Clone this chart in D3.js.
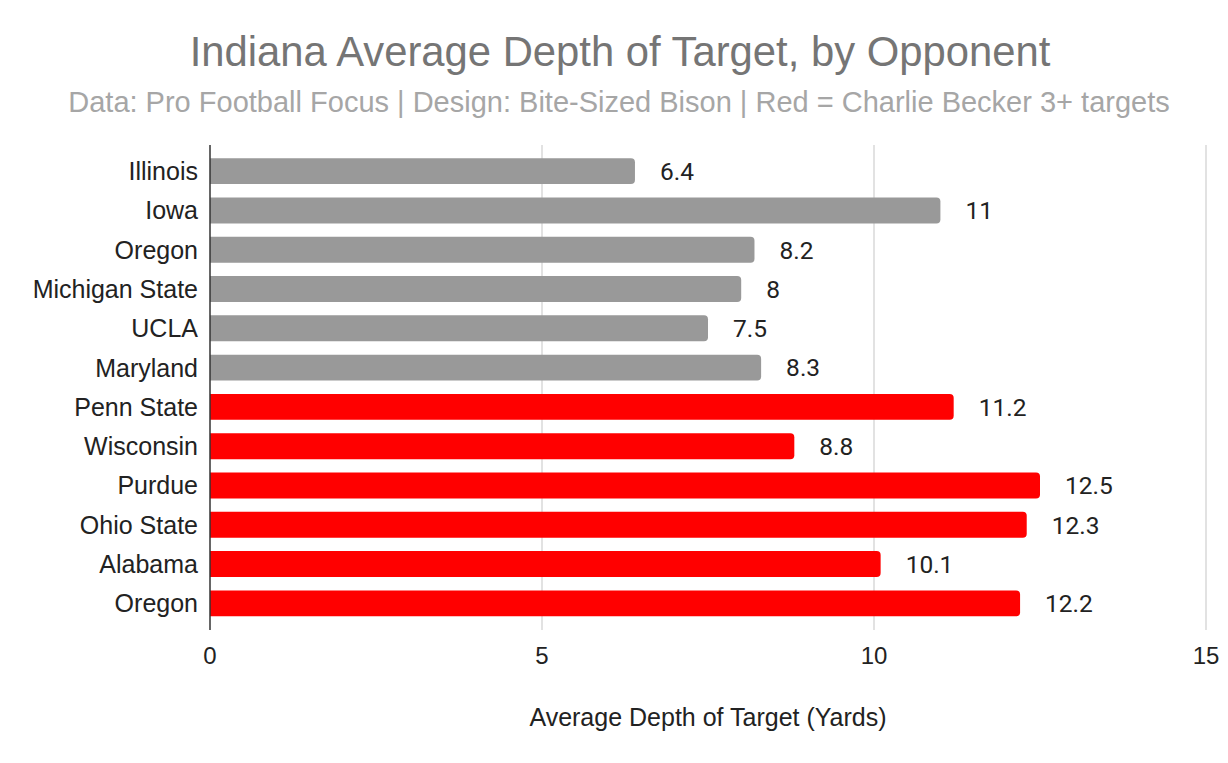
<!DOCTYPE html>
<html>
<head>
<meta charset="utf-8">
<script src="https://cdn.jsdelivr.net/npm/d3@7"></script>
<style>
  body { margin: 0; background: #fff; }
</style>
</head>
<body>
<script>
// Chart data
var opponents = ['Illinois', 'Iowa', 'Oregon', 'Michigan State', 'UCLA', 'Maryland',
  'Penn State', 'Wisconsin', 'Purdue', 'Ohio State', 'Alabama', 'Oregon'];
var adot = [6.4, 11, 8.2, 8, 7.5, 8.3, 11.2, 8.8, 12.5, 12.3, 10.1, 12.2];
var beckerTargets = [false, false, false, false, false, false, true, true, true, true, true, true];
var xTicks = [0, 5, 10, 15];

var w = 1228;
var h = 763;
var plotLeft = 210, plotRight = 1206, plotTop = 145, plotBottom = 630;
var arial = 'Liberation Sans, Arial, sans-serif';
var roboto = 'Roboto, sans-serif';

var rows = opponents.map(function(d, i) {
  return { idx: i, name: d, value: adot[i], red: beckerTargets[i] };
});

var svg = d3.select('body')
  .append('svg')
  .attr('width', w)
  .attr('height', h);

var x = d3.scaleLinear().domain([0, 15]).range([plotLeft, plotRight]);
var y = d3.scaleBand()
  .domain(rows.map(function(d) { return d.idx; }))
  .range([151.5, 623])
  .paddingInner(0.34)
  .paddingOuter(0.17);

// Title
svg.append('text')
  .attr('x', 620).attr('y', 66)
  .attr('text-anchor', 'middle')
  .attr('font-family', arial)
  .attr('font-size', '41.8px')
  .attr('fill', '#757575')
  .text('Indiana Average Depth of Target, by Opponent');

svg.append('text')
  .attr('x', 619).attr('y', 112)
  .attr('text-anchor', 'middle')
  .attr('font-family', arial)
  .attr('font-size', '29px')
  .attr('fill', '#a6a6a6')
  .text('Data: Pro Football Focus | Design: Bite-Sized Bison | Red = Charlie Becker 3+ targets');

// Gridlines
svg.selectAll('line.grid')
  .data(xTicks.slice(1))
  .enter()
  .append('line')
  .attr('class', 'grid')
  .attr('x1', function(d) { return x(d); })
  .attr('x2', function(d) { return x(d); })
  .attr('y1', plotTop)
  .attr('y2', plotBottom)
  .attr('stroke', '#d9d9d9')
  .attr('stroke-width', 1.5);

// Bars (rounded right end)
svg.selectAll('path.bar')
  .data(rows)
  .enter()
  .append('path')
  .attr('class', 'bar')
  .attr('d', function(d) {
    var x0 = x(0), x1 = x(d.value), y0 = y(d.idx), bh = y.bandwidth(), r = 4;
    return 'M' + x0 + ',' + y0 +
      'H' + (x1 - r) +
      'Q' + x1 + ',' + y0 + ' ' + x1 + ',' + (y0 + r) +
      'V' + (y0 + bh - r) +
      'Q' + x1 + ',' + (y0 + bh) + ' ' + (x1 - r) + ',' + (y0 + bh) +
      'H' + x0 + 'Z';
  })
  .attr('fill', function(d) { return d.red ? '#ff0000' : '#999999'; });

// Value labels
svg.selectAll('text.val')
  .data(rows)
  .enter()
  .append('text')
  .attr('class', 'val')
  .attr('x', function(d) { return x(d.value) + 25; })
  .attr('y', function(d) { return y(d.idx) + y.bandwidth() / 2; })
  .attr('dy', '0.36em')
  .attr('font-family', roboto)
  .attr('font-size', '24.5px')
  .attr('fill', '#222')
  .text(function(d) { return d.value; });

// Category labels
svg.selectAll('text.cat')
  .data(rows)
  .enter()
  .append('text')
  .attr('class', 'cat')
  .attr('x', 198)
  .attr('y', function(d) { return y(d.idx) + y.bandwidth() / 2; })
  .attr('dy', '0.36em')
  .attr('text-anchor', 'end')
  .attr('font-family', arial)
  .attr('font-size', '25px')
  .attr('fill', '#222')
  .text(function(d) { return d.name; });

// Baseline axis
svg.append('line')
  .attr('x1', x(0)).attr('x2', x(0))
  .attr('y1', plotTop).attr('y2', plotBottom)
  .attr('stroke', '#333')
  .attr('stroke-width', 1.5);

// X tick labels
svg.selectAll('text.tick')
  .data(xTicks)
  .enter()
  .append('text')
  .attr('class', 'tick')
  .attr('x', function(d) { return x(d); })
  .attr('y', 664)
  .attr('text-anchor', 'middle')
  .attr('font-family', arial)
  .attr('font-size', '24px')
  .attr('fill', '#222')
  .text(function(d) { return d; });

// Axis title
svg.append('text')
  .attr('x', 708).attr('y', 726)
  .attr('text-anchor', 'middle')
  .attr('font-family', arial)
  .attr('font-size', '25px')
  .attr('fill', '#222')
  .text('Average Depth of Target (Yards)');
</script>
</body>
</html>
